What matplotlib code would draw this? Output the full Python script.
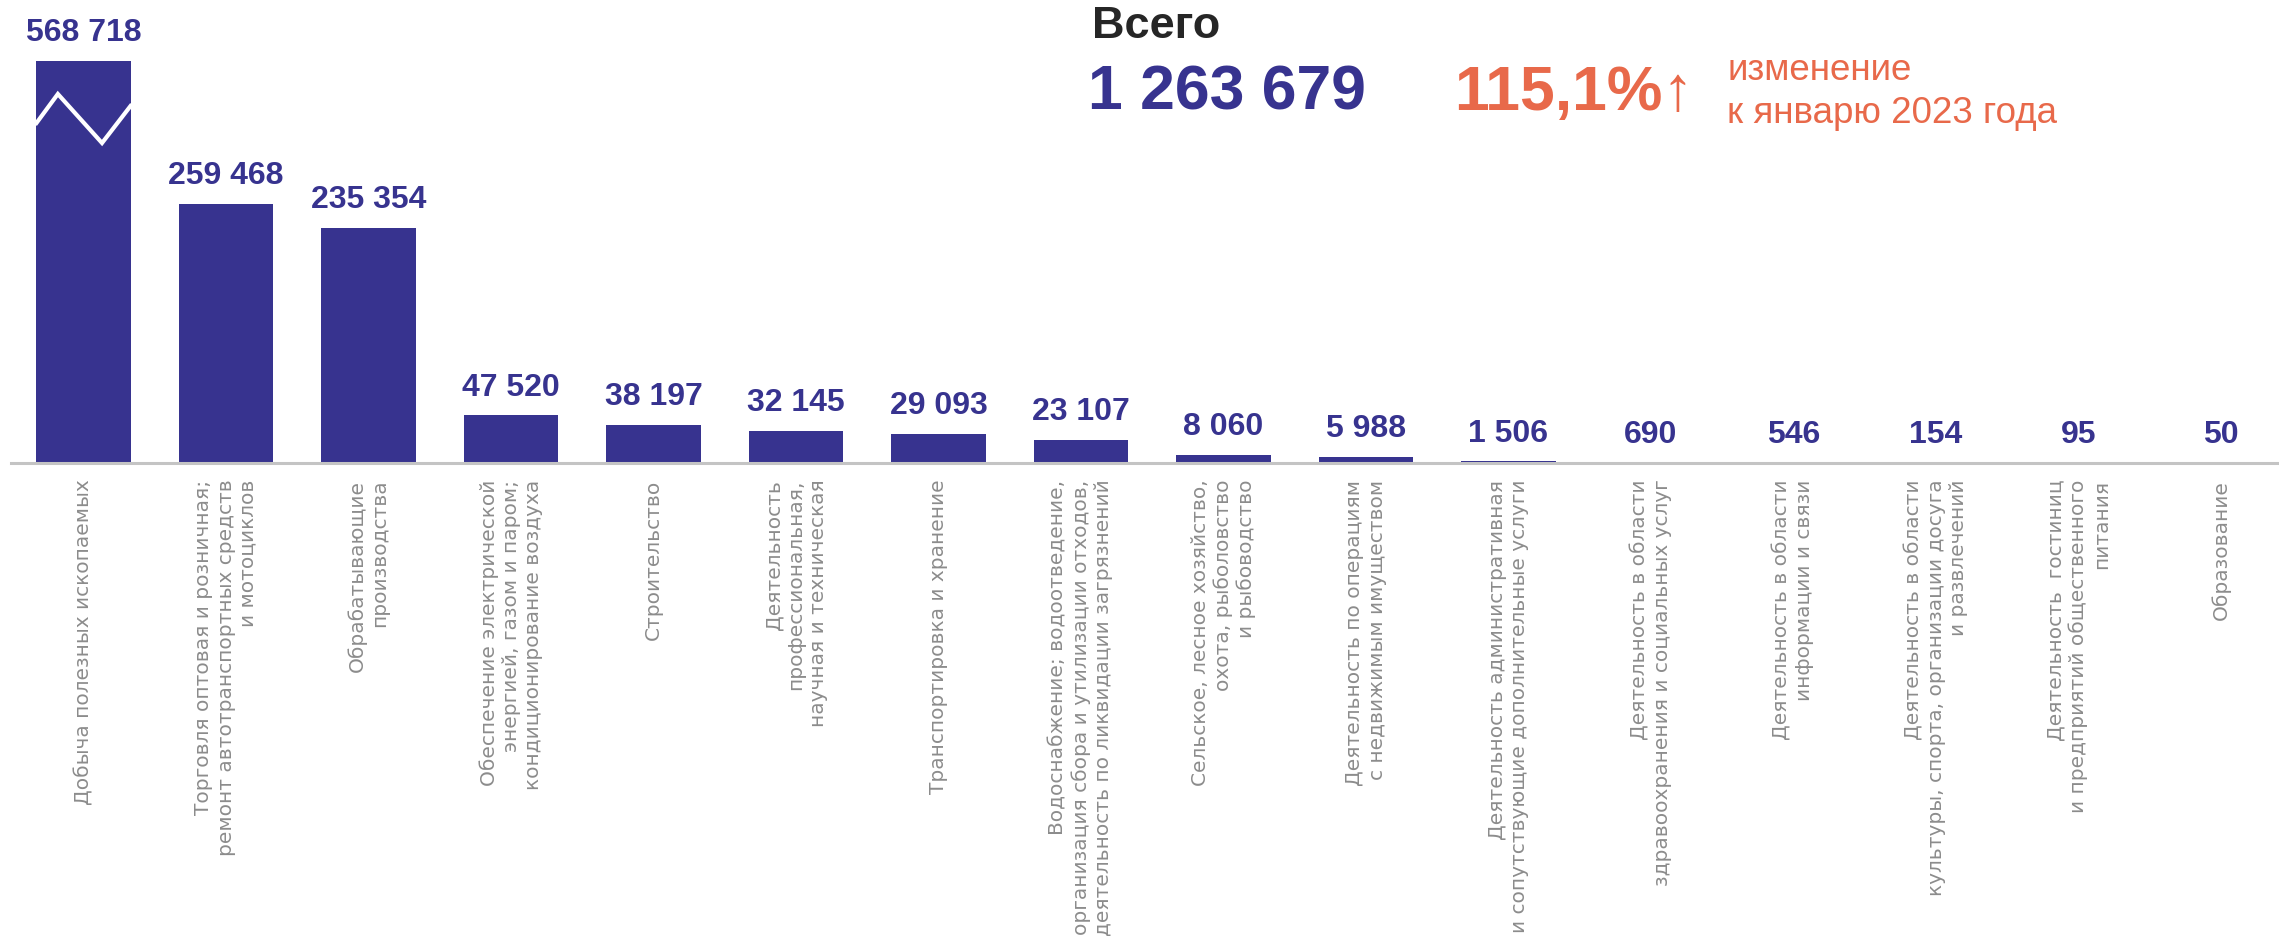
import numpy as np
import matplotlib.pyplot as plt

# данные
categories = [
    "Добыча полезных ископаемых",
    "Торговля оптовая и розничная;\nремонт автотранспортных средств\nи мотоциклов",
    "Обрабатывающие\nпроизводства",
    "Обеспечение электрической\nэнергией, газом и паром;\nкондиционирование воздуха",
    "Строительство",
    "Деятельность\nпрофессиональная,\nнаучная и техническая",
    "Транспортировка и хранение",
    "Водоснабжение; водоотведение,\nорганизация сбора и утилизации отходов,\nдеятельность по ликвидации загрязнений",
    "Сельское, лесное хозяйство,\nохота, рыболовство\nи рыбоводство",
    "Деятельность по операциям\nс недвижимым имуществом",
    "Деятельность административная\nи сопутствующие дополнительные услуги",
    "Деятельность в области\nздравоохранения и социальных услуг",
    "Деятельность в области\nинформации и связи",
    "Деятельность в области\nкультуры, спорта, организации досуга\nи развлечений",
    "Деятельность  гостиниц\nи предприятий общественного\nпитания",
    "Образование",
]
values = [568718, 259468, 235354, 47520, 38197, 32145, 29093, 23107,
          8060, 5988, 1506, 690, 546, 154, 95, 50]
total = 1263679
change = "115,1%"
change_note = "изменение\nк январю 2023 года"

# первый столбец показан с разрывом
cap = 402000

blue = "#37338f"
orange = "#e8694a"
gray = "#8c8c8c"

def fmt(v):
    return f"{v:,}".replace(",", " ")

fig = plt.figure(figsize=(22.79, 9.47), dpi=100)
ax = fig.add_axes([11 / 2279, 1 - 463 / 947, 1 - 11 / 2279, 463 / 947])

x = np.arange(len(values))
shown = [min(v, cap) for v in values]
ax.bar(x, shown, width=0.66, color=blue, zorder=2)

# разрыв на первом столбце
zx = [-0.33, -0.18, 0.13, 0.33]
zy = [340000, 369000, 320000, 357000]
ax.plot(zx, zy, color="white", lw=3, zorder=3, solid_joinstyle="miter")

for xi, h, v in zip(x, shown, values):
    ax.annotate(fmt(v), (xi, h), xytext=(0, 20), textcoords="offset points",
                ha="center", va="center", fontsize=23, fontweight="bold",
                color=blue, family="Liberation Sans")

ax.set_xlim((11 - 83.5) / 142.5, (2279 - 83.5) / 142.5)
ax.set_ylim(0, 463000)
ax.set_xticks(x)
ax.set_xticklabels(categories, rotation=90, ha="center", va="top",
                   multialignment="right", color=gray, fontsize=14.5,
                   family="DejaVu Sans", linespacing=1.22)
ax.tick_params(axis="x", length=0, pad=12)
ax.set_yticks([])
for s in ["top", "left", "right"]:
    ax.spines[s].set_visible(False)
ax.spines["bottom"].set_color("#c4c4c4")
ax.spines["bottom"].set_linewidth(2.2)
ax.patch.set_alpha(0)

# шапка
fig.text(1092 / 2279, 1 - 27 / 947, "Всего", fontsize=32.5, fontweight="bold",
         color="#262626", family="Liberation Sans", va="center", ha="left")
fig.text(1088 / 2279, 1 - 93 / 947, fmt(total), fontsize=45, fontweight="bold",
         color=blue, family="Liberation Sans", va="center", ha="left")
fig.text(1454 / 2279, 1 - 93 / 947, change + "↑", fontsize=45, fontweight="bold",
         color=orange, family=["Liberation Sans", "DejaVu Sans"], va="center", ha="left")
fig.text(1727 / 2279, 1 - 92 / 947, change_note, fontsize=26.5,
         color=orange, family="Liberation Sans", va="center", ha="left",
         linespacing=1.3)

fig.savefig("out.png", dpi=100)
